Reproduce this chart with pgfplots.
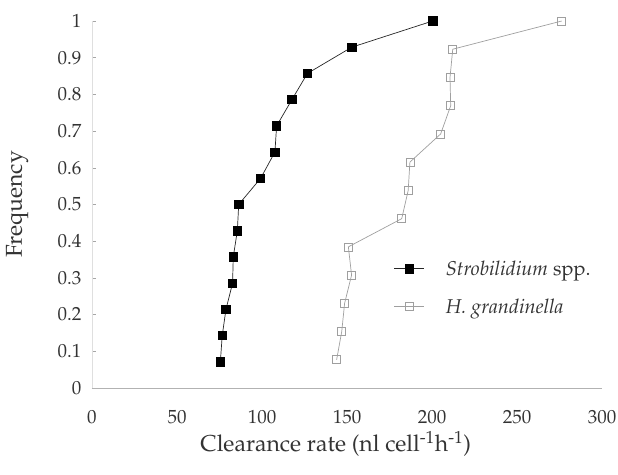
\documentclass[border=0pt]{standalone}
\usepackage[T1]{fontenc}
\usepackage{mathpazo}
\usepackage{pgfplots}
\pgfplotsset{compat=1.18}
\begin{document}
\begin{tikzpicture}
\useasboundingbox (-92pt,-86pt) rectangle (526pt,388pt);
\begin{axis}[
  scale only axis, width=510pt, height=367pt,
  xmin=0, xmax=300, ymin=0, ymax=1,
  clip=false,
  axis x line=bottom, axis y line=left,
  axis line style={-},
  x axis line style={gray!60, line width=0.8pt},
  y axis line style={gray!25, line width=0.5pt},
  xtick={0,50,100,150,200,250,300},
  ytick={0,0.1,0.2,0.3,0.4,0.5,0.6,0.7,0.8,0.9,1},
  yticklabels={0,0.1,0.2,0.3,0.4,0.5,0.6,0.7,0.8,0.9,1},
  xtick style={draw=none},
  ytick style={gray!70, line width=0.5pt},
  tick align=inside, major tick length=4pt,
  tick label style={font=\fontsize{19}{22}\selectfont, text=black!80},
  xticklabel style={yshift=-19pt},
  yticklabel style={xshift=-7pt},
  every axis x label/.style={at={(axis description cs:0.478,-0.152)}, anchor=center},
  every axis y label/.style={at={(axis description cs:-0.147,0.5)}, rotate=90, anchor=center},
  label style={font=\fontsize{23}{26}\selectfont, text=black!80},
  xlabel={Clearance rate (nl cell\textsuperscript{-1}h\textsuperscript{-1})},
  ylabel={Frequency},
  legend cell align=left,
  legend style={draw=none, fill=none, at={(axis description cs:0.586,0.358)}, anchor=north west,
    font=\fontsize{20}{24}\selectfont, text=black!80, row sep=18pt,
    /tikz/every odd column/.append style={column sep=19pt}},
  legend image code/.code={\draw[mark repeat=2,mark phase=2,#1] plot coordinates {(0pt,0pt)(15pt,0pt)(30pt,0pt)};},
]
\addplot[black!85, line width=0.7pt, mark=square*, mark size=4.2pt, mark options={fill=black, draw=black, solid}]
  coordinates {(75.5,0.0714)(76.6,0.1429)(78.8,0.2143)(82.7,0.2857)(83.1,0.3571)(85.5,0.4286)(86.3,0.5)
               (99.2,0.5714)(107.6,0.6429)(108.6,0.7143)(117.6,0.7857)(126.7,0.8571)(152.8,0.9286)(200.4,1.0)};
\addplot[gray!75, line width=0.7pt, mark=square, mark size=4pt, mark options={fill=white, draw=gray!75, solid}]
  coordinates {(143.9,0.0769)(146.9,0.1538)(148.6,0.2308)(152.7,0.3077)(150.8,0.3846)(182.2,0.4615)(186.0,0.5385)
               (187.0,0.6154)(205.1,0.6923)(211.0,0.7692)(210.6,0.8462)(212.2,0.9231)(276.3,1.0)};
\legend{\textit{Strobilidium} spp., \textit{H. grandinella}}
\end{axis}
\end{tikzpicture}
\end{document}
